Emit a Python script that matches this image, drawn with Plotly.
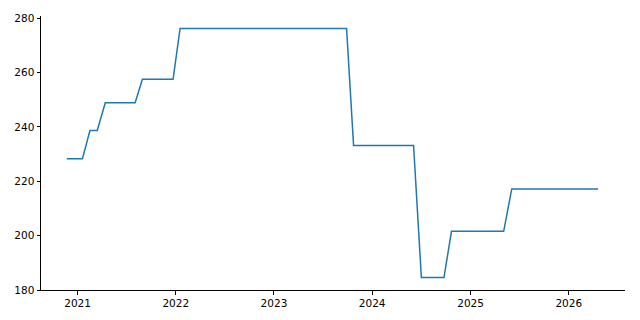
import plotly.graph_objects as go

dates = ["2020-11-22", "2021-01-19", "2021-02-16", "2021-03-15", "2021-04-14",
         "2021-08-03", "2021-08-30", "2021-12-22", "2022-01-17", "2023-09-28",
         "2023-10-24", "2024-06-03", "2024-07-02", "2024-09-24", "2024-10-22",
         "2025-05-04", "2025-06-03", "2026-04-20"]
values = [228.3, 228.3, 238.7, 238.7, 248.9,
          248.9, 257.5, 257.5, 276.2, 276.2,
          233.2, 233.2, 184.6, 184.6, 201.6,
          201.6, 217.2, 217.2]
xtick_vals = ["2021-01-01", "2022-01-01", "2023-01-01", "2024-01-01", "2025-01-01", "2026-01-01"]
xtick_text = ["2021", "2022", "2023", "2024", "2025", "2026"]
ytick_vals = [180, 200, 220, 240, 260, 280]

fig = go.Figure()
fig.add_trace(go.Scatter(x=dates, y=values, mode="lines",
                         line=dict(color="#1f77b4", width=1.5), showlegend=False))

font = dict(family="DejaVu Sans", size=10.5, color="black")
fig.update_layout(
    width=640, height=320,
    margin=dict(l=41, r=15, t=16, b=30),
    paper_bgcolor="white", plot_bgcolor="white",
    font=font,
    xaxis=dict(type="date", range=["2020-08-18", "2026-07-29"],
               tickvals=xtick_vals, ticktext=xtick_text,
               showgrid=False, zeroline=False, showline=True, linecolor="black", linewidth=1,
               ticks="outside", ticklen=3.5, tickwidth=1, tickcolor="black", tickfont=font),
    yaxis=dict(range=[180.0, 280.8], tickvals=ytick_vals,
               showgrid=False, zeroline=False, showline=True, linecolor="black", linewidth=1,
               ticks="outside", ticklen=3.5, tickwidth=1, tickcolor="black", tickfont=font),
)
fig.write_html("out.html")
